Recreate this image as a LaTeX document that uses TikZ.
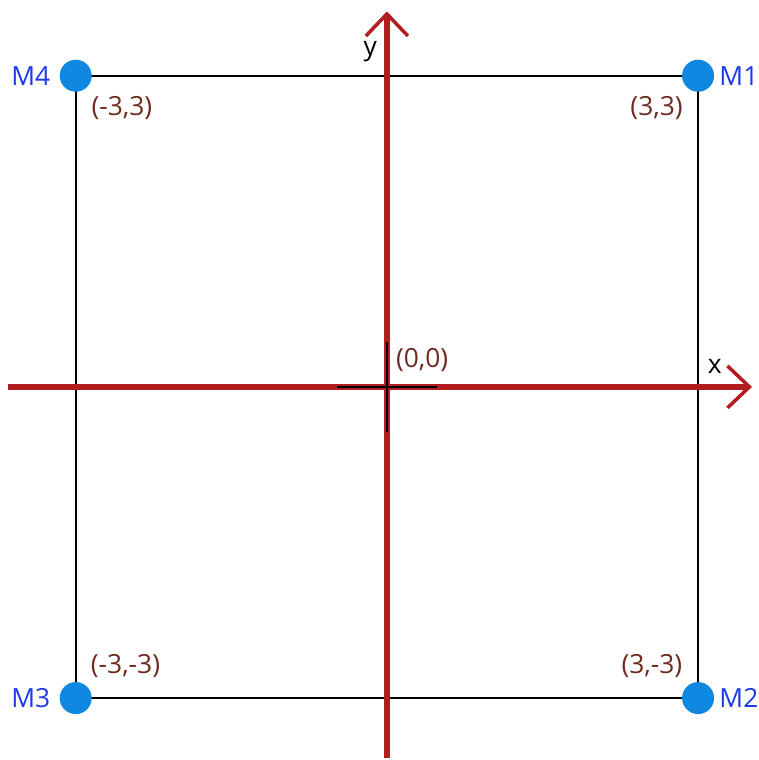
\documentclass[tikz,border=0pt]{standalone}
\usepackage{fontspec}
\setmainfont{Open Sans}
\usepackage{xcolor}
\usepackage{tikz}
\usetikzlibrary{arrows.meta,positioning}
\definecolor{axred}{RGB}{178,30,32}
\definecolor{dotblue}{RGB}{16,136,226}
\definecolor{lblblue}{RGB}{26,58,235}
\definecolor{crdbrown}{RGB}{110,42,30}
\tikzset{
  axis/.style={line width=1.5pt, draw=axred, -{Straight Barb[length=2.2mm, width=4.2mm, line width=1pt]}},
  frame/.style={line width=0.6pt, draw=black},
  mdot/.style={circle, fill=dotblue, minimum size=0.32cm, inner sep=0pt},
  mlabel/.style={text=lblblue, inner sep=0pt, font=\fontsize{7.5}{9}\selectfont},
  crdlabel/.style={text=crdbrown, inner sep=0pt, font=\fontsize{7.5}{9}\selectfont},
  axlabel/.style={text=black, inner sep=0pt, font=\fontsize{7.5}{9}\selectfont}
}
\begin{document}
\begin{tikzpicture}[x=1.037cm, y=1.037cm]
  \useasboundingbox (-3.73,-3.597) rectangle (3.587,3.73);
  % corners
  \coordinate (c1) at (3,3);
  \coordinate (c2) at (3,-3);
  \coordinate (c3) at (-3,-3);
  \coordinate (c4) at (-3,3);
  \draw[frame] (c1) -- (c2) -- (c3) -- (c4) -- cycle;
  % axes
  \coordinate (xs) at (-3.655,0);
  \coordinate (xe) at (3.52,0);
  \coordinate (ys) at (0,-3.58);
  \coordinate (ye) at (0,3.62);
  \draw[axis] (xs) -- (xe);
  \draw[axis] (ys) -- (ye);
  \node[axlabel] (lx) at (3.16,0.20) {x};
  \node[axlabel] (ly) at (-0.16,3.23) {y};
  % origin cross
  \coordinate (ol) at (-0.48,0);
  \coordinate (or) at (0.48,0);
  \coordinate (ob) at (0,-0.43);
  \coordinate (ot) at (0,0.43);
  \draw[frame] (ol) -- (or);
  \draw[frame] (ob) -- (ot);
  \node[crdlabel] (l0) at (0.34,0.26) {(0,0)};
  % corner points
  \node[mdot] (m1) at (c1) {};
  \node[mdot] (m2) at (c2) {};
  \node[mdot] (m3) at (c3) {};
  \node[mdot] (m4) at (c4) {};
  \node[mlabel, right=0.04cm of m1] (n1) {M1};
  \node[mlabel, right=0.04cm of m2] (n2) {M2};
  \node[mlabel, left=0.08cm of m3] (n3) {M3};
  \node[mlabel, left=0.08cm of m4] (n4) {M4};
  \node[crdlabel] (l1) at (2.60,2.69) {(3,3)};
  \node[crdlabel] (l2) at (2.555,-2.69) {(3,-3)};
  \node[crdlabel] (l3) at (-2.52,-2.69) {(-3,-3)};
  \node[crdlabel] (l4) at (-2.555,2.69) {(-3,3)};
\end{tikzpicture}
\end{document}
